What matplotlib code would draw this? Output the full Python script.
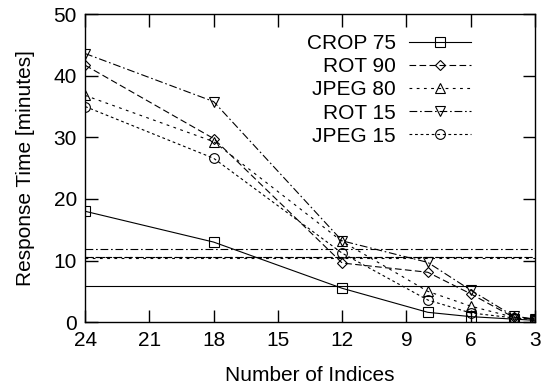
import matplotlib
matplotlib.use("Agg")
import matplotlib.pyplot as plt

plt.rcParams['font.family'] = ['Liberation Sans', 'DejaVu Sans']

x = [24, 18, 12, 8, 6, 4, 3]
labels = ["CROP 75", "ROT 90", "JPEG 80", "ROT 15", "JPEG 15"]
crop75 = [18.0, 13.0, 5.5, 1.6, 0.9, 0.5, 0.3]
rot90 = [41.7, 29.8, 9.6, 8.1, 4.6, 0.8, 0.5]
jpeg80 = [36.8, 29.3, 13.1, 5.0, 2.6, 0.8, 0.5]
rot15 = [43.6, 35.8, 13.2, 9.7, 5.2, 1.0, 0.5]
jpeg15 = [35.0, 26.6, 11.2, 3.6, 1.5, 0.7, 0.4]
baselines = [5.9, 10.5, 10.4, 11.8, 10.6]

series = [crop75, rot90, jpeg80, rot15, jpeg15]
markers = ['s', 'D', '^', 'v', 'o']
msizes = [7, 5.5, 7, 7, 7]
styles = ['-', (0, (6, 3)), (0, (2.5, 4)), (0, (7, 2.5, 1.5, 2.5)), (0, (2.5, 2.5))]

fig = plt.figure(figsize=(5.42, 3.91), dpi=100)
ax = fig.add_axes([0.157, 0.176, 0.83, 0.788])

for ys, lab, m, ms, ls, b in zip(series, labels, markers, msizes, styles, baselines):
    ax.plot(x, ys, color='black', lw=0.8, linestyle=ls, marker=m, ms=ms,
            mfc='none', mec='black', mew=0.8, label=lab)
    ax.axhline(b, color='black', lw=0.8, linestyle=ls)

ax.set_xlim(24, 3)
ax.set_ylim(0, 50)
ax.set_xticks([24, 21, 18, 15, 12, 9, 6, 3])
ax.set_yticks([0, 10, 20, 30, 40, 50])
ax.tick_params(direction='in', top=True, right=True, length=9, width=1,
               labelsize=15, pad=6)
for s in ax.spines.values():
    s.set_linewidth(1)
ax.set_xlabel("Number of Indices", fontsize=15, labelpad=12)
ax.set_ylabel("Response Time [minutes]", fontsize=15, labelpad=13)

leg = ax.legend(loc='upper right', frameon=False, markerfirst=False, fontsize=15,
                handlelength=3.0, handletextpad=0.6, labelspacing=0.2,
                borderaxespad=0, borderpad=0,
                bbox_to_anchor=(0.858, 0.935))
for t in leg.get_texts():
    t.set_ha('right')
leg._legend_box.align = 'right'

fig.savefig("out.png", dpi=100)
